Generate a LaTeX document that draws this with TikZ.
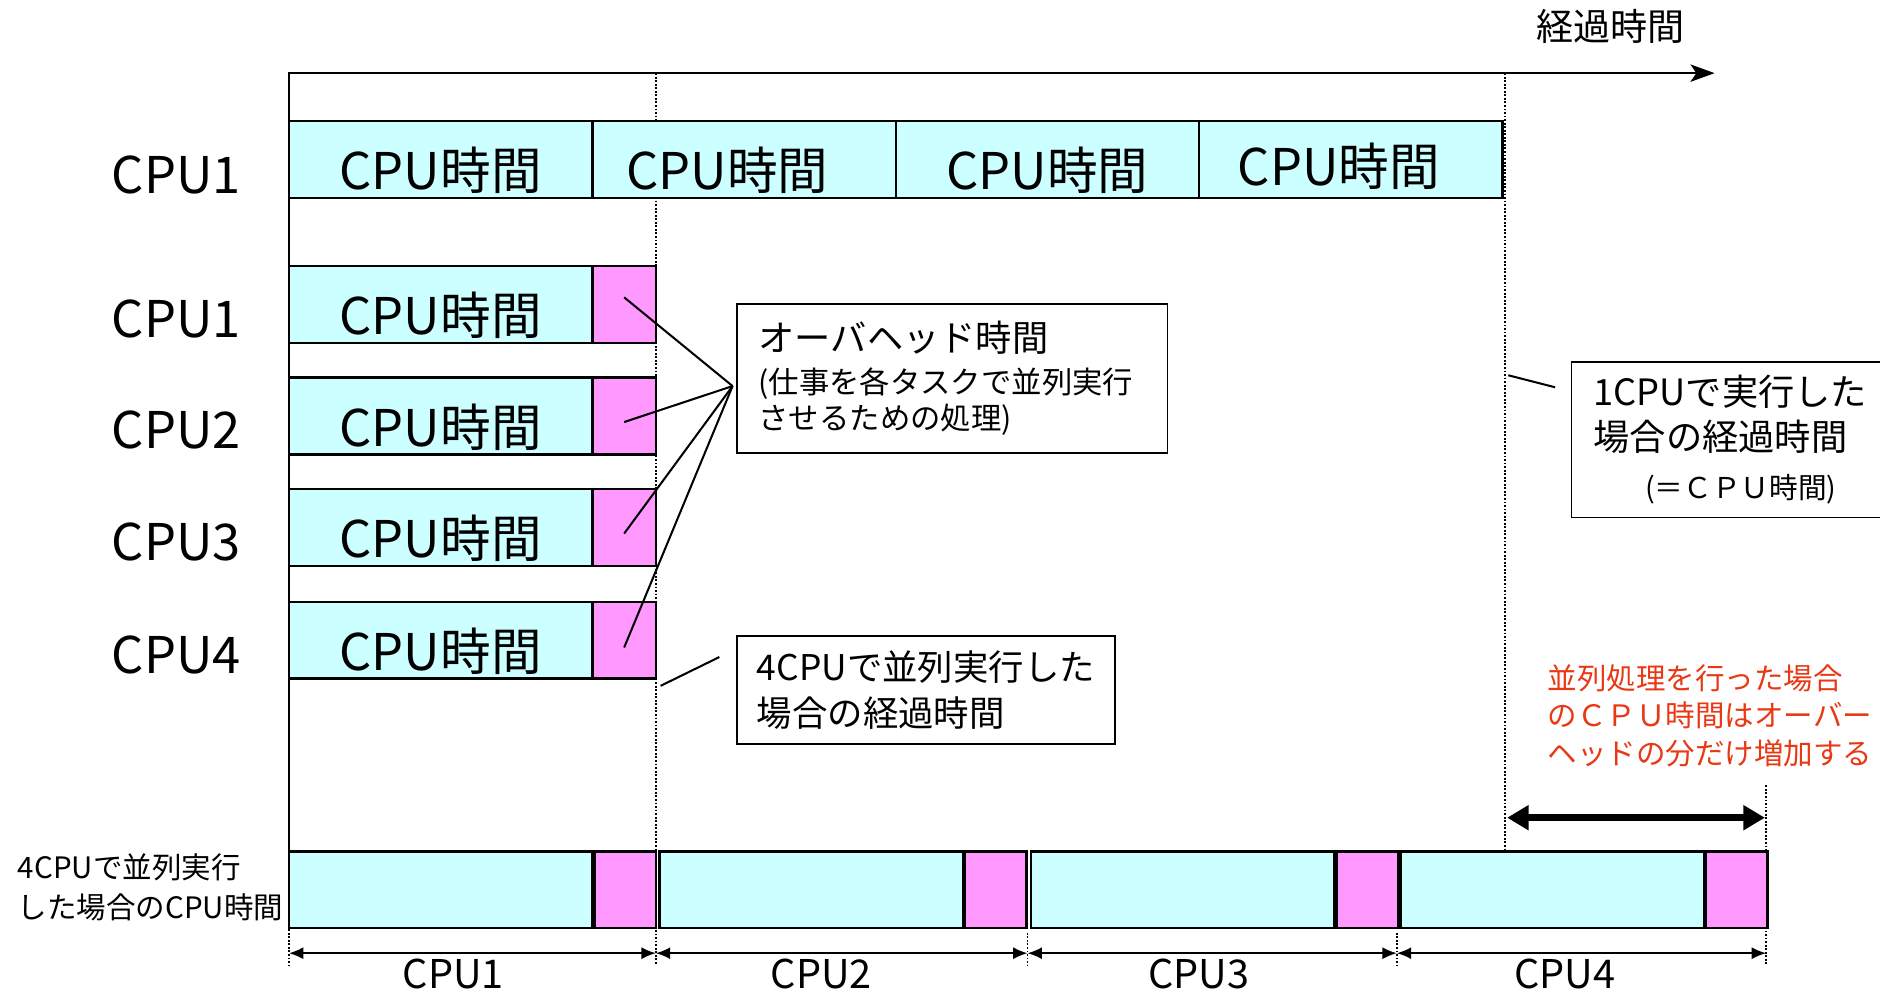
\documentclass[tikz,border=0pt]{standalone}
\usepackage{fontspec}
\setmainfont{Noto Sans CJK JP}
\usetikzlibrary{positioning,arrows.meta}
\definecolor{mycyan}{RGB}{204,255,255}
\definecolor{mymagenta}{RGB}{255,153,255}
\definecolor{myred}{RGB}{232,56,20}

\tikzset{
    axis/.style={line width=1.5pt, -{Stealth[length=0.5cm, width=0.36cm, inset=0.12cm]}},
    guide/.style={line width=1.1pt, densely dotted},
    cpubox/.style={draw, line width=1.5pt, fill=mycyan, anchor=north west,
        minimum width=6.325cm, minimum height=1.6cm, inner sep=0pt, outer sep=0pt,
        text height=1.35cm, text depth=0.1cm, font=\fontsize{30}{30}\selectfont},
    ovhbox/.style={draw, line width=1.5pt, fill=mymagenta, anchor=north west,
        minimum width=1.325cm, minimum height=1.6cm, inner sep=0pt, outer sep=0pt},
    rowlabel/.style={font=\fontsize{30}{30}\selectfont},
    note/.style={draw, line width=1pt, fill=white, anchor=north west, align=left,
        inner sep=0pt, font=\fontsize{21.5}{25.6}\selectfont},
    leader/.style={line width=1.2pt},
    dimline/.style={line width=1pt, {Latex[length=0.3cm, width=0.25cm]}-{Latex[length=0.3cm, width=0.25cm]}},
    dimlabel/.style={font=\fontsize{23.5}{23.5}\selectfont},
    bigdim/.style={line width=4pt, {Triangle[length=0.45cm, width=0.5cm]}-{Triangle[length=0.45cm, width=0.5cm]}}
}

\begin{document}
\begin{tikzpicture}[x=0.025cm, y=-0.025cm]
    \useasboundingbox (0,0) rectangle (1568,829);
    % Guides
    \draw[guide] (547,61) -- (547,805);
    \draw[guide] (1255,61) -- (1255,708);
    \draw[guide] (1473,655) -- (1473,805);
    \draw[guide] (241,775) -- (241,805);
    \draw[guide] (857,778) -- (857,805);
    \draw[guide] (1165,778) -- (1165,805);
    % Time axis
    \coordinate (AxisBot) at (241,710);
    \coordinate (AxisTip) at (1430,61);
    \draw[axis] (AxisBot) |- (AxisTip);
    \node[font=\fontsize{22}{22}\selectfont] (AxisLabel) at (1343,22) {経過時間};
    % 1 CPU
    \node[rowlabel] (TopLbl) at (147,146) {CPU1};
    \node[cpubox] (Top1) at (241,101) {CPU時間};
    \node[cpubox, right=0pt of Top1] (Top2) {CPU時間\hspace*{0.7cm}};
    \node[cpubox, right=0pt of Top2] (Top3) {CPU時間};
    \node[cpubox, right=0pt of Top3, text height=1.2cm] (Top4) {CPU時間\hspace*{0.5cm}};
    % 4 CPUs
    \foreach \i/\y in {1/222, 2/315, 3/408, 4/502} {
        \node[rowlabel] (Lbl\i) at (147,{\y+44}) {CPU\i};
        \node[cpubox] (Row\i) at (241,\y) {CPU時間};
        \node[ovhbox, right=0pt of Row\i] (Ovh\i) {};
    }
    % Overhead note
    \node[note, text width=8.075cm, inner xsep=0.45cm, minimum height=3.1cm,
        font=\fontsize{18}{21.3}\selectfont] (OvhNote) at (614,253) {
        {\fontsize{21.5}{21.5}\selectfont オーバヘッド時間}\\[3.6pt]
        (仕事を各タスクで並列実行\\
        させるための処理)
    };
    \coordinate (OvhPt) at (611,322);
    \draw[leader] ([yshift=0.15cm]Ovh1.center) -- (OvhPt);
    \draw[leader] ([yshift=-0.125cm]Ovh2.center) -- (OvhPt);
    \draw[leader] ([yshift=-0.125cm]Ovh3.center) -- (OvhPt);
    \draw[leader] ([yshift=-0.15cm]Ovh4.center) -- (OvhPt);
    % Elapsed time notes
    \node[note, minimum width=7.875cm, minimum height=2.25cm, font=\fontsize{21}{27}\selectfont] (ParNote) at (614,530) {
        4CPUで並列実行した\\
        場合の経過時間
    };
    \coordinate (ParLead) at (600,548);
    \coordinate (ParEnd) at (551,572);
    \draw[leader] (ParLead) -- (ParEnd);
    \node[note, minimum width=6.625cm, minimum height=3.25cm] (OneNote) at (1310,301) {
        1CPUで実行した\\[0.8pt]
        場合の経過時間\\[2.9pt]
        \hspace*{1.075cm}{\fontsize{17}{20}\selectfont (＝ＣＰＵ時間)}
    };
    \coordinate (OneEnd) at (1258,313);
    \coordinate (OneLead) at (1297,323);
    \draw[leader] (OneEnd) -- (OneLead);
    % Extra CPU time
    \node[anchor=west, align=left, text=myred, font=\fontsize{17.5}{22}\selectfont] (RedNote) at (1286,597) {
        並列処理を行った場合\\
        のＣＰＵ時間はオーバー\\
        ヘッドの分だけ増加する
    };
    \coordinate (ExtraL) at (1257,682);
    \coordinate (ExtraR) at (1472,682);
    \draw[bigdim] (ExtraL) -- (ExtraR);
    % Total CPU time
    \node[anchor=west, align=left, font=\fontsize{17.5}{24}\selectfont] (BarLabel) at (10,740) {
        4CPUで並列実行\\
        した場合のCPU時間
    };
    \foreach \i/\x in {1/241, 2/550, 3/860, 4/1168} {
        \node[cpubox] (Bar\i) at (\x,710) {};
        \node[ovhbox, minimum width=1.275cm] (BarOvh\i) at ({\x+255},710) {};
    }
    \coordinate (D0) at (241,795);
    \coordinate (D1) at (547,795);
    \coordinate (D2) at (857,795);
    \coordinate (D3) at (1165,795);
    \coordinate (D4) at (1473,795);
    \foreach \a/\b/\n/\lx in {D0/D1/1/378, D1/D2/2/685, D2/D3/3/1000, D3/D4/4/1305} {
        \draw[dimline] (\a) -- (\b);
        \node[dimlabel] (Dim\n) at (\lx,812) {CPU\n};
    }
\end{tikzpicture}
\end{document}
